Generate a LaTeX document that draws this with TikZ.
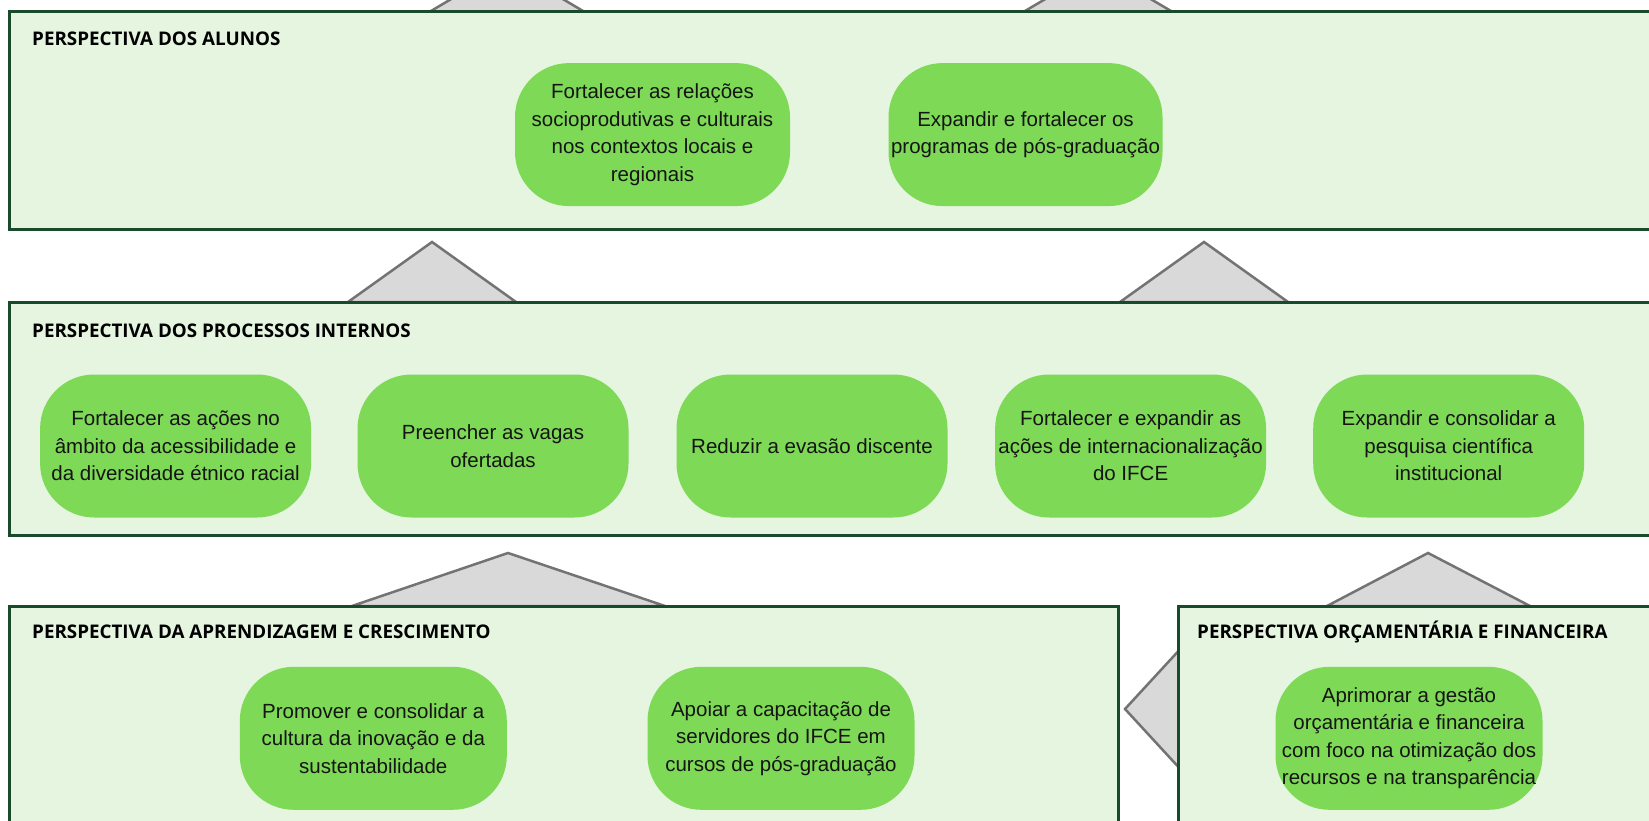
\documentclass[tikz,border=0pt]{standalone}
\usepackage{fontspec}
\setmainfont{Liberation Sans}
\newfontfamily\titlefont{Open Sans}
\definecolor{boxborder}{HTML}{1A4A2C}
\definecolor{boxfill}{HTML}{E5F5E0}
\definecolor{nodegreen}{HTML}{7ED957}
\definecolor{trifill}{HTML}{D9D9D9}
\definecolor{tristroke}{HTML}{737373}
\definecolor{txt}{HTML}{151515}
\tikzset{
  panel/.style={draw=boxborder, fill=boxfill, line width=3pt},
  tri/.style={draw=tristroke, fill=trifill, line width=2.5pt, line join=miter},
  goal/.style={fill=nodegreen, draw=none, rounded corners=54pt, align=center,
    inner sep=0pt, minimum height=143pt, text=txt,
    font=\fontsize{20.5}{27.5}\selectfont},
  ptitle/.style={anchor=west, inner sep=0pt, text=black,
    font=\titlefont\bfseries\fontsize{18.8}{21}\selectfont}
}
\begin{document}
\begin{tikzpicture}[x=1pt,y=-1pt]
\useasboundingbox (0,0) rectangle (1649,821);
\clip (0,0) rectangle (1649,821);
% triangles (drawn first, panels cover their bases)
\draw[tri] (430,11.6) -- (507,-34) -- (584,11.6) -- cycle;
\draw[tri] (1024,11.6) -- (1098,-32) -- (1172,11.6) -- cycle;
\draw[tri] (348,302) -- (432,242) -- (516,302) -- cycle;
\draw[tri] (1120,302) -- (1204,242) -- (1288,302) -- cycle;
\draw[tri] (352,606) -- (508,553) -- (665,606) -- cycle;
\draw[tri] (1327,606) -- (1428,553) -- (1530,606) -- cycle;
\draw[tri] (1195,633) -- (1125,709) -- (1195,785) -- cycle;
% panels
\draw[panel] (9.5,11.6) rectangle (1665,230);
\draw[panel] (9.5,302) rectangle (1665,535);
\draw[panel] (9.5,606) rectangle (1118,840);
\draw[panel] (1178,606) rectangle (1665,840);
% titles
\node[ptitle] (t1) at (32,39) {PERSPECTIVA DOS ALUNOS};
\node[ptitle] (t2) at (32,331) {PERSPECTIVA DOS PROCESSOS INTERNOS};
\node[ptitle] (t3) at (32,632) {PERSPECTIVA DA APRENDIZAGEM E CRESCIMENTO};
\node[ptitle] (t4) at (1197,632) {PERSPECTIVA ORÇAMENTÁRIA E FINANCEIRA};
% goals - alunos
\node[goal, minimum width=275pt] (a1) at (652.5,134.6) {Fortalecer as relações\\socioprodutivas e culturais\\nos contextos locais e\\regionais};
\node[goal, minimum width=274pt] (a2) at (1025.5,134.6) {Expandir e fortalecer os\\programas de pós-graduação};
% goals - processos internos
\node[goal, minimum width=271pt] (p1) at (175.6,446) {Fortalecer as ações no\\âmbito da acessibilidade e\\da diversidade étnico racial};
\node[goal, minimum width=271pt] (p2) at (493,446) {Preencher as vagas\\ofertadas};
\node[goal, minimum width=271pt] (p3) at (812,446) {Reduzir a evasão discente};
\node[goal, minimum width=271pt] (p4) at (1130.6,446) {Fortalecer e expandir as\\ações de internacionalização\\do IFCE};
\node[goal, minimum width=271pt] (p5) at (1448.7,446) {Expandir e consolidar a\\pesquisa científica\\institucional};
% goals - aprendizagem
\node[goal, minimum width=267pt] (c1) at (373.3,738.3) {Promover e consolidar a\\cultura da inovação e da\\sustentabilidade};
\node[goal, minimum width=267pt] (c2) at (781,738.3) {Apoiar a capacitação de\\servidores do IFCE em\\cursos de pós-graduação};
% goal - orcamentaria
\node[goal, minimum width=267pt] (o1) at (1409,738.3) {Aprimorar a gestão\\orçamentária e financeira\\com foco na otimização dos\\recursos e na transparência};
\end{tikzpicture}
\end{document}
